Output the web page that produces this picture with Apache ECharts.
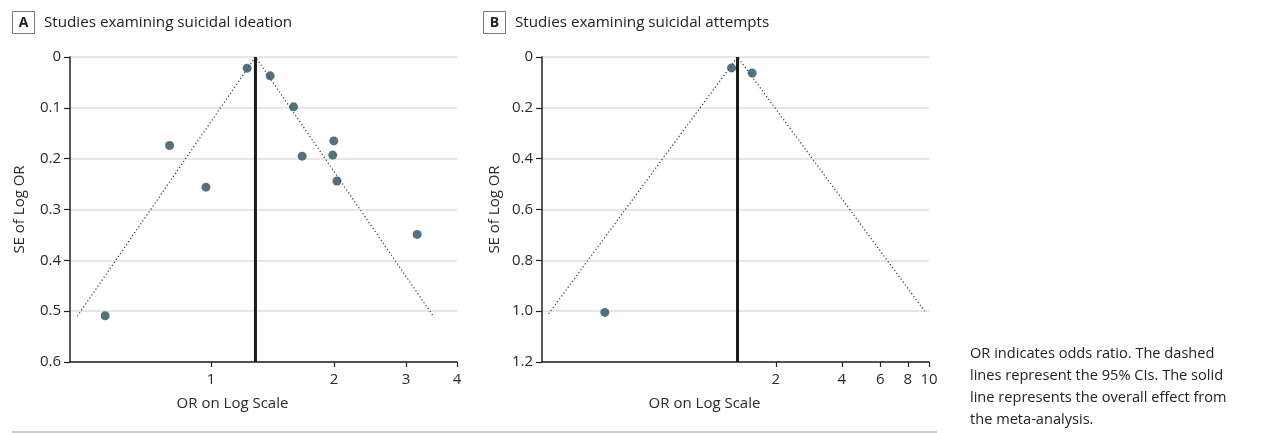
<!DOCTYPE html>
<html>
<head>
<meta charset="utf-8">
<script src="https://cdn.jsdelivr.net/npm/echarts@6/dist/echarts.min.js"></script>
<style>
html,body{margin:0;padding:0;background:#fff;}
#chart{width:1265px;height:433px;}
</style>
</head>
<body>
<div id="chart"></div>
<script>
// Panel A: studies examining suicidal ideation (OR, SE of log OR)
const ideationOR = [1.226, 1.396, 1.593, 0.792, 1.998, 1.672, 1.986, 0.972, 2.034, 3.196, 0.551];
const ideationSE = [0.022, 0.037, 0.098, 0.174, 0.165, 0.195, 0.193, 0.256, 0.244, 0.349, 0.509];
const ideationPooledOR = 1.285;
const ideationFunnelOR = [0.471, 1.285, 3.50];   // left end, apex, right end
const ideationFunnelSE = [0.51, 0, 0.51];
const ideationTicks = [1, 2, 3, 4];
const ideationYTicks = [0, 0.1, 0.2, 0.3, 0.4, 0.5, 0.6];

// Panel B: studies examining suicidal attempts
const attemptOR = [1.257, 1.560, 0.332];
const attemptSE = [0.043, 0.063, 1.005];
const attemptPooledOR = 1.338;
const attemptFunnelOR = [0.184, 1.338, 9.55];
const attemptFunnelSE = [1.01, 0, 1.0];
const attemptTicks = [2, 4, 6, 8, 10];
const attemptYTicks = [0, 0.2, 0.4, 0.6, 0.8, 1.0, 1.2];

const FONT = '"Open Sans"';
const txt = '#2a2a2a';
const dotColor = '#284f5e';

const ln = Math.log;
function pts(ors, ses){ return ors.map((o,i)=>[ln(o), ses[i]]); }

function xAxisCfg(idx, minOR, maxOR, ticks){
  const tv = ticks.map(ln);
  return {
    gridIndex: idx, type: 'value', min: ln(minOR), max: ln(maxOR),
    name: 'OR on Log Scale', nameLocation: 'middle', nameGap: 34,
    nameTextStyle: {fontFamily: FONT, fontSize: 15, color: txt, padding: [0, 62, 0, 0]},
    axisLine: {show: true, onZero: false, lineStyle: {color: '#222', width: 1.5}},
    axisTick: {show: true, length: 5, lineStyle: {color: '#222', width: 1.2}, customValues: tv},
    axisLabel: {fontFamily: FONT, fontSize: 15, color: txt, margin: 10, customValues: tv,
      formatter: v => String(Math.round(Math.exp(v)))},
    splitLine: {show: false}
  };
}
function yAxisCfg(idx, ticks, gap){
  const step = ticks[1]-ticks[0];
  return {
    gridIndex: idx, type: 'value', inverse: true, min: ticks[0], max: ticks[ticks.length-1], interval: step,
    name: 'SE of Log OR', nameLocation: 'middle', nameGap: gap, nameRotate: 90,
    nameTextStyle: {fontFamily: FONT, fontSize: 15, color: txt},
    axisLine: {show: true, onZero: false, lineStyle: {color: '#222', width: 1.5}},
    axisTick: {show: true, length: 6, lineStyle: {color: '#222', width: 1.2}},
    axisLabel: {fontFamily: FONT, fontSize: 15, color: txt, margin: 9,
      formatter: v => v === 0 ? '0' : v.toFixed(1)},
    splitLine: {show: true, lineStyle: {color: '#dedede', width: 1.5}}
  };
}

function seriesFor(idx, ors, ses, pooled, fOR, fSE, yMax){
  return [
    {type:'line', xAxisIndex: idx, yAxisIndex: idx, data: pts(fOR, fSE), symbol:'none', silent:true,
     lineStyle:{color:'#333', width:1.2, type:[1.2, 2.4]}, z: 2},
    {type:'line', xAxisIndex: idx, yAxisIndex: idx, data: [[ln(pooled), 0], [ln(pooled), yMax]], symbol:'none', silent:true,
     lineStyle:{color:'#1a1a1a', width:3}, z: 3},
    {type:'scatter', xAxisIndex: idx, yAxisIndex: idx, data: pts(ors, ses), symbolSize: 9,
     itemStyle:{color: dotColor}, z: 4}
  ];
}

const chart = echarts.init(document.getElementById('chart'), null, {renderer:'canvas'});
chart.setOption({
  backgroundColor: '#fff',
  animation: false,
  grid: [
    {left: 70, top: 57, width: 387, height: 305},
    {left: 542, top: 57, width: 387, height: 305}
  ],
  xAxis: [
    xAxisCfg(0, 0.452, 4, ideationTicks),
    xAxisCfg(1, 0.1716, 10, attemptTicks)
  ],
  yAxis: [
    yAxisCfg(0, ideationYTicks, 43),
    yAxisCfg(1, attemptYTicks, 40)
  ],
  series: [].concat(
    seriesFor(0, ideationOR, ideationSE, ideationPooledOR, ideationFunnelOR, ideationFunnelSE, 0.6),
    seriesFor(1, attemptOR, attemptSE, attemptPooledOR, attemptFunnelOR, attemptFunnelSE, 1.2)
  ),
  graphic: [
    {type:'rect', shape:{x:12.5, y:11.5, width:22, height:22}, style:{fill:'#fff', stroke:'#777', lineWidth:1}},
    {type:'text', x:23.5, y:23, style:{text:'A', font:'bold 14px '+FONT, fill:'#222', align:'center', verticalAlign:'middle'}},
    {type:'text', x:44, y:23, style:{text:'Studies examining suicidal ideation', font:'15.2px '+FONT, fill:'#222', verticalAlign:'middle'}},
    {type:'rect', shape:{x:483.5, y:11.5, width:22, height:22}, style:{fill:'#fff', stroke:'#777', lineWidth:1}},
    {type:'text', x:494.5, y:23, style:{text:'B', font:'bold 14px '+FONT, fill:'#222', align:'center', verticalAlign:'middle'}},
    {type:'text', x:515, y:23, style:{text:'Studies examining suicidal attempts', font:'15.2px '+FONT, fill:'#222', verticalAlign:'middle'}},
    {type:'line', shape:{x1:12, y1:432, x2:937, y2:432}, style:{stroke:'#999', lineWidth:1}},
    {type:'text', x:970, y:343, style:{text:'OR indicates odds ratio. The dashed\nlines represent the 95% CIs. The solid\nline represents the overall effect from\nthe meta-analysis.', font:'14.6px '+FONT, lineHeight:22, fill:'#222'}}
  ]
});
</script>
</body>
</html>
